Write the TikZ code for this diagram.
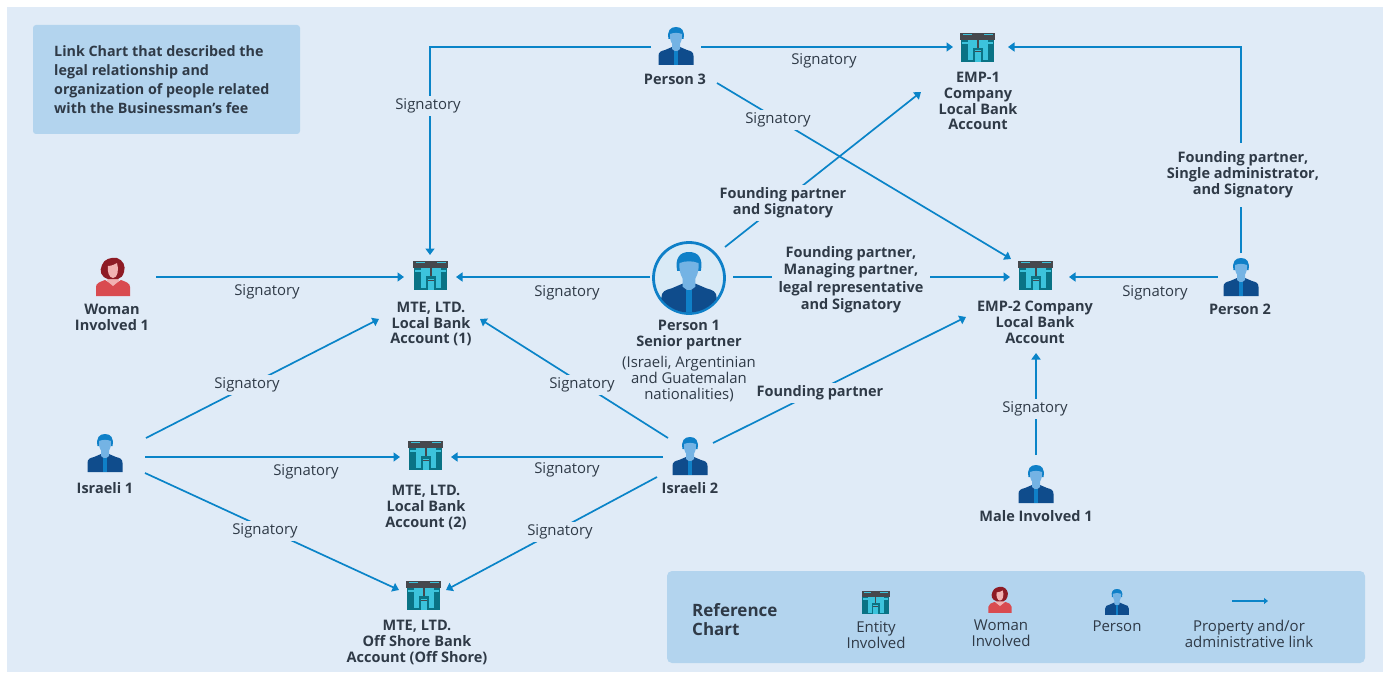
\documentclass[tikz,border=0pt]{standalone}
\usepackage{fontspec}
\setmainfont{Open Sans}
\usetikzlibrary{arrows.meta}
\definecolor{bgpanel}{HTML}{E0EBF7}
\definecolor{boxblue}{HTML}{B3D4EE}
\definecolor{linkblue}{HTML}{0A84C8}
\definecolor{txt}{HTML}{2F3A47}
\definecolor{navy}{HTML}{0F4C8C}
\definecolor{hairblue}{HTML}{0F80C8}
\definecolor{faceblue}{HTML}{74B3E4}
\definecolor{barGrey}{HTML}{46484D}
\definecolor{teal1}{HTML}{0A7385}
\definecolor{win}{HTML}{3CC3DC}
\definecolor{redbody}{HTML}{D94B50}
\definecolor{redhair}{HTML}{8E1B25}
\definecolor{skin}{HTML}{F2B2B2}
\tikzset{
  x=1pt,y=-1pt,
  link/.style={draw=linkblue,line width=1.7pt,-{Triangle[length=6.5pt,width=9pt]}},
  plain/.style={txt,font=\fontsize{14.9}{16}\selectfont,align=center,inner sep=0pt},
  bold/.style={txt,font=\fontsize{14.5}{15.8}\selectfont\bfseries,align=center,inner sep=0pt},
  lab/.style={plain,fill=bgpanel,inner sep=3pt},
  blab/.style={bold,fill=bgpanel,inner sep=3pt},
  legend/.style={txt,font=\fontsize{15}{16}\selectfont,align=center,inner sep=0pt},
  person/.pic={
    \fill[navy] (-17.5,38) -- (-17.5,29) .. controls (-17.5,25) and (-15,24) .. (-11,23) -- (-4,20) -- (4,20) -- (11,23) .. controls (15,24) and (17.5,25) .. (17.5,29) -- (17.5,38) -- cycle;
    \fill[faceblue] (-4,16) -- (-4,22) -- (0,25) -- (4,22) -- (4,16) -- cycle;
    \fill[hairblue] (-7.5,12) .. controls (-9,4) and (-6,0) .. (0,0) .. controls (6,0) and (9,4) .. (7.5,12) -- cycle;
    \fill[faceblue] (-6,7) .. controls (-2,5.5) and (2,5.5) .. (6,7) .. controls (6.5,12) and (5,18) .. (0,20) .. controls (-5,18) and (-6.5,12) .. (-6,7) -- cycle;
    \fill[hairblue] (-2,24) -- (2,24) -- (2,38) -- (-2,38) -- cycle;
  },
  woman/.pic={
    \fill[redbody] (-17,38) -- (-17,29) .. controls (-17,25) and (-13,24) .. (-8,22) -- (0,27) -- (8,22) .. controls (13,24) and (17,25) .. (17,29) -- (17,38) -- cycle;
    \fill[skin] (-4,16) -- (-6,23) -- (0,28) -- (6,23) -- (4,16) -- cycle;
    \fill[redhair] (-5,21) .. controls (-12,19) and (-14,13) .. (-11,7) .. controls (-9,1) and (-2,-1) .. (4,0) .. controls (10,2) and (13,8) .. (11,14) .. controls (10,18) and (8,20) .. (5,21) -- cycle;
    \fill[skin] (-5,8) .. controls (-1,8) and (2,6) .. (4,5) .. controls (6,11) and (5,20) .. (0,20) .. controls (-4,20) and (-6,13) .. (-5,8) -- cycle;
  },
  building/.pic={
    \fill[teal1] (-16.5,7) rectangle (16.5,29);
    \fill[win] (-15.5,7) rectangle (15.5,27);
    \fill[teal1] (-15.5,7) rectangle (-10,27);
    \fill[teal1] (10,7) rectangle (15.5,27);
    \fill[win] (-15.5,9) rectangle (-10,11);
    \fill[win] (10,9) rectangle (15.5,11);
    \fill[barGrey] (-17.5,0) rectangle (17.5,7);
    \fill[win] (-15,1.2) rectangle (-6,2.2);
    \fill[win] (6,1.2) rectangle (15,2.2);
    \fill[barGrey] (-1,7) rectangle (1,15);
    \fill[teal1] (-5,15) rectangle (5,29);
    \fill[win] (-3,17.5) rectangle (3,29);
    \fill[barGrey] (-3,18.5) rectangle (3,19.5);
  },
}
\begin{document}
\begin{tikzpicture}
\useasboundingbox (0,0) rectangle (1385,674);
\fill[white] (0,0) rectangle (1385,674);
\fill[bgpanel] (7,7) rectangle (1383,672);
\fill[boxblue,rounded corners=3pt] (33,25) rectangle (300,134);
\fill[boxblue,rounded corners=5pt] (667,571) rectangle (1365,663);

% ports
\coordinate (p3L) at (651,47);
\coordinate (p3R) at (701,47);
\coordinate (p3D) at (717,83);
\coordinate (corner1) at (430,47);
\coordinate (m1T) at (430,255);
\coordinate (m1R) at (456,277);
\coordinate (m1L) at (404,277);
\coordinate (m1A) at (379,319);
\coordinate (m1B) at (480,319);
\coordinate (e1L) at (953,47);
\coordinate (e1R) at (1008,47);
\coordinate (e1D) at (921,92);
\coordinate (e2L) at (1010,277);
\coordinate (e2R) at (1069,277);
\coordinate (e2A) at (1011,259);
\coordinate (e2B) at (966,317);
\coordinate (e2D) at (1036,353);
\coordinate (p1L) at (650,277);
\coordinate (p1R) at (733,277);
\coordinate (p1U) at (725,247);
\coordinate (wR) at (156,277);
\coordinate (p2L) at (1218,277);
\coordinate (p2U) at (1241,253);
\coordinate (corner2) at (1241,47);
\coordinate (maleU) at (1036,455);
\coordinate (i2A) at (713,443);
\coordinate (i2B) at (668,438);
\coordinate (i2C) at (663,457);
\coordinate (i2D) at (657,477);
\coordinate (i1A) at (146,438);
\coordinate (i1B) at (145,457);
\coordinate (i1C) at (145,473);
\coordinate (m2L) at (400,457);
\coordinate (m2R) at (451,457);
\coordinate (m3L) at (399,590);
\coordinate (m3R) at (446,590);

% connectors
\draw[link] (p3L) -- (corner1) -- (m1T);
\draw[link] (p3R) -- (e1L);
\draw[link] (p3D) -- (e2A);
\draw[link] (p1U) -- (e1D);
\draw[link] (p1R) -- (e2L);
\draw[link] (p1L) -- (m1R);
\draw[link] (wR) -- (m1L);
\draw[link] (p2L) -- (e2R);
\draw[link] (p2U) -- (corner2) -- (e1R);
\draw[link] (maleU) -- (e2D);
\draw[link] (i2A) -- (e2B);
\draw[link] (i2B) -- (m1B);
\draw[link] (i2C) -- (m2R);
\draw[link] (i2D) -- (m3R);
\draw[link] (i1A) -- (m1A);
\draw[link] (i1B) -- (m2L);
\draw[link] (i1C) -- (m3L);

% connector labels
\node[lab] (l1) at (428,106) {Signatory};
\node[plain] (l2) at (824,61) {Signatory};
\node[lab] (l3) at (778,120) {Signatory};
\node[blab] (l4) at (783,203) {Founding partner\\and Signatory};
\node[blab,inner xsep=7pt,font=\fontsize{14.5}{17.3}\selectfont\bfseries] (l5) at (851,279.7) {Founding partner,\\Managing partner,\\legal representative\\and Signatory};
\node[plain] (l6) at (567,293) {Signatory};
\node[plain] (l7) at (267,292) {Signatory};
\node[plain] (l8) at (1155,293) {Signatory};
\node[blab,inner ysep=9pt] (l9) at (1243,175) {Founding partner,\\Single administrator,\\and Signatory};
\node[lab] (l10) at (1035,409) {Signatory};
\node[blab] (l11) at (820,393) {Founding partner};
\node[lab] (l12) at (582,385) {Signatory};
\node[plain] (l13) at (567,470) {Signatory};
\node[lab] (l14) at (560,532) {Signatory};
\node[lab] (l15) at (247,385) {Signatory};
\node[plain] (l16) at (306,472) {Signatory};
\node[lab] (l17) at (265,531) {Signatory};

% icons
\pic at (676,27) {person};
\pic at (1241,258) {person};
\pic at (105,434) {person};
\pic at (690,437) {person};
\pic at (1036,465) {person};
\pic at (113,258) {woman};
\pic at (430.5,261) {building};
\pic at (977.5,33) {building};
\pic at (1035.5,261) {building};
\pic at (425.5,441) {building};
\pic at (423.5,581) {building};

\node[circle,draw=hairblue,line width=2.8pt,fill=white!50!boxblue,minimum size=71pt,inner sep=0pt] (p1c) at (689,278) {};
\begin{scope}
\clip (689,278) circle (34.5);
\pic[scale=1.58] at (689,252) {person};
\end{scope}

% icon captions
\node[bold] (t1) at (675,79) {Person 3};
\node[bold] (t2) at (978,101) {EMP-1\\Company\\Local Bank\\Account};
\node[bold] (t3) at (112,317) {Woman\\Involved 1};
\node[bold] (t4) at (431,324) {MTE, LTD.\\Local Bank\\Account (1)};
\node[bold] (t5) at (689,335) {Person 1\\Senior partner};
\node[plain] (t6) at (689,379.5) {(Israeli, Argentinian\\and Guatemalan\\nationalities)};
\node[bold] (t7) at (1035,322.5) {EMP-2 Company\\Local Bank\\Account};
\node[bold] (t8) at (1240,309) {Person 2};
\node[bold] (t9) at (105,488) {Israeli 1};
\node[bold] (t10) at (690,488) {Israeli 2};
\node[bold] (t11) at (426,507.5) {MTE, LTD.\\Local Bank\\Account (2)};
\node[bold] (t12) at (1036,516) {Male Involved 1};
\node[bold] (t13) at (417,642.5) {MTE, LTD.\\Off Shore Bank\\Account (Off Shore)};

\node[bold,align=left,anchor=west,font=\fontsize{14.3}{19}\selectfont\bfseries] (title) at (54,80) {Link Chart that described the\\legal relationship and\\organization of people related\\with the Businessman’s fee};

% legend
\node[bold,align=left,anchor=west,font=\fontsize{17}{19}\selectfont\bfseries] (lg0) at (692,620) {Reference\\Chart};
\pic[scale=.8] at (875.5,591) {building};
\pic[scale=.68] at (1000,587) {woman};
\pic[scale=.68] at (1117,589) {person};
\coordinate (lgA) at (1232,601);
\coordinate (lgB) at (1268,601);
\draw[draw=linkblue,line width=1.3pt,-{Triangle[length=4pt,width=6pt]}] (lgA) -- (lgB);
\node[legend] (lg1) at (876,635) {Entity\\Involved};
\node[legend] (lg2) at (1001,633) {Woman\\Involved};
\node[legend] (lg3) at (1117,626) {Person};
\node[legend] (lg4) at (1249,634) {Property and/or\\administrative link};
\end{tikzpicture}
\end{document}
